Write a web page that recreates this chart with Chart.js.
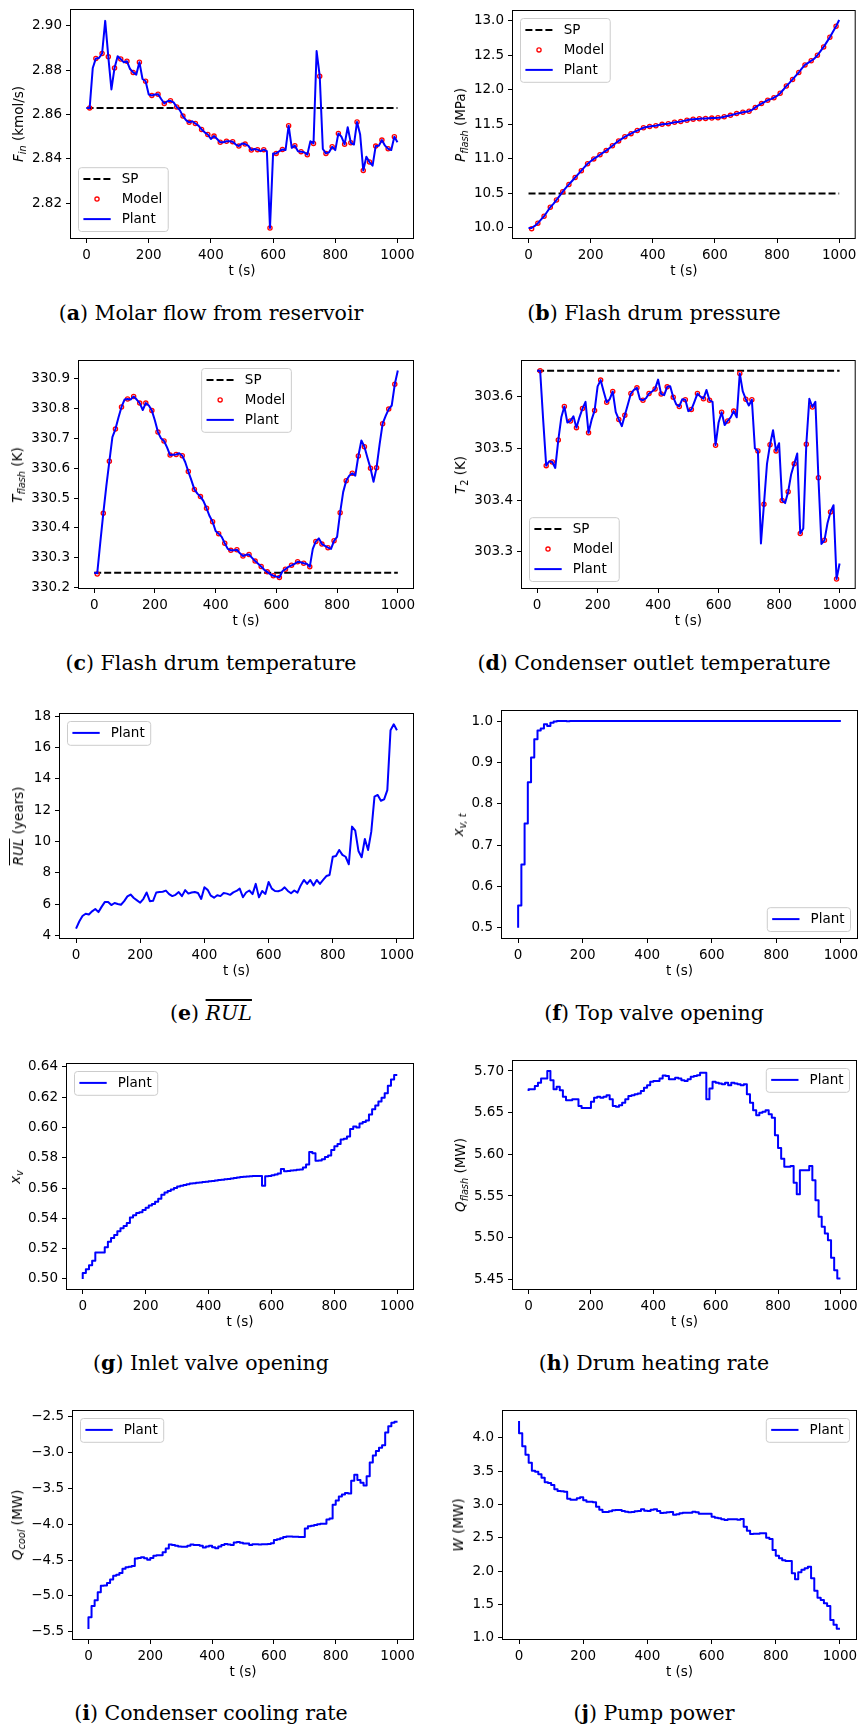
<!DOCTYPE html>
<html>
<head>
<meta charset="utf-8">
<script src="https://cdn.jsdelivr.net/npm/chart.js@4.4.1/dist/chart.umd.min.js"></script>
<style>
  html, body { margin: 0; padding: 0; background: #fff; }
  #page { position: relative; width: 860px; height: 1729px; overflow: hidden; }
  .plot { position: absolute; }
  .ylab {
    position: absolute; white-space: nowrap; color: #000;
    font-family: 'DejaVu Sans'; font-size: 13.5px; line-height: 16px;
    transform: translate(-50%, -50%) rotate(-90deg);
  }
  .ylab sub { font-size: 72%; vertical-align: -0.3em; line-height: 0; }
  .cap {
    position: absolute; width: 430px; text-align: center; color: #000;
    font-family: 'DejaVu Serif'; font-size: 20.5px; line-height: 24px; white-space: nowrap;
  }
</style>
</head>
<body>
<div id="page"></div>
<script>
// sample times (s): plant every 10 s, model every 20 s
const T = [
  0, 10, 20, 30, 40, 50, 60, 70, 80, 90, 100, 110, 120, 130, 140, 150, 160, 170, 180, 190,
  200, 210, 220, 230, 240, 250, 260, 270, 280, 290, 300, 310, 320, 330, 340, 350, 360, 370, 380, 390,
  400, 410, 420, 430, 440, 450, 460, 470, 480, 490, 500, 510, 520, 530, 540, 550, 560, 570, 580, 590,
  600, 610, 620, 630, 640, 650, 660, 670, 680, 690, 700, 710, 720, 730, 740, 750, 760, 770, 780, 790,
  800, 810, 820, 830, 840, 850, 860, 870, 880, 890, 900, 910, 920, 930, 940, 950, 960, 970, 980, 990, 1000
]
const T_MODEL = [
  10, 30, 50, 70, 90, 110, 130, 150, 170, 190, 210, 230, 250, 270, 290, 310, 330, 350, 370, 390,
  410, 430, 450, 470, 490, 510, 530, 550, 570, 590, 610, 630, 650, 670, 690, 710, 730, 750, 770, 790,
  810, 830, 850, 870, 890, 910, 930, 950, 970, 990
]
const X_TICKS = [0, 200, 400, 600, 800, 1000]

// (a) molar flow from reservoir, kmol/s
const SP_A = 2.863
const PLANT_A = [
  2.863, 2.863, 2.881, 2.8853, 2.8855, 2.8875, 2.9022, 2.886, 2.8713, 2.881,
  2.8863, 2.885, 2.8835, 2.884, 2.8805, 2.879, 2.878, 2.8836, 2.876, 2.875,
  2.869, 2.8686, 2.869, 2.8692, 2.867, 2.865, 2.866, 2.8662, 2.8655, 2.8634,
  2.862, 2.8593, 2.8575, 2.8565, 2.857, 2.856, 2.855, 2.8533, 2.852, 2.851,
  2.849, 2.8503, 2.849, 2.8475, 2.8475, 2.848, 2.848, 2.8478, 2.8465, 2.8458,
  2.847, 2.8467, 2.846, 2.844, 2.8445, 2.8442, 2.8435, 2.8442, 2.8435, 2.8089,
  2.8425, 2.8425, 2.8435, 2.8443, 2.844, 2.855, 2.845, 2.846, 2.8435, 2.8433,
  2.843, 2.8419, 2.848, 2.847, 2.8886, 2.8773, 2.8445, 2.8425, 2.843, 2.8455,
  2.844, 2.8515, 2.850, 2.8466, 2.8543, 2.8473, 2.8465, 2.8567, 2.851, 2.8348,
  2.841, 2.8386, 2.837, 2.8458, 2.846, 2.8485, 2.846, 2.8446, 2.844, 2.850, 2.8475
]
const MODEL_A = [
  2.863, 2.8853, 2.8875, 2.886, 2.881, 2.885, 2.884, 2.879, 2.8836, 2.875,
  2.8686, 2.8692, 2.865, 2.8662, 2.8634, 2.8593, 2.8565, 2.856, 2.8533, 2.851,
  2.8503, 2.8475, 2.848, 2.8478, 2.8458, 2.8467, 2.844, 2.8442, 2.8442, 2.8089,
  2.8425, 2.8443, 2.855, 2.846, 2.8433, 2.8419, 2.847, 2.8773, 2.8425, 2.8455,
  2.8515, 2.8466, 2.8473, 2.8567, 2.8348, 2.8386, 2.8458, 2.8485, 2.8446, 2.850
]
const Y_TICKS_A = [2.82, 2.84, 2.86, 2.88, 2.90]

// (b) flash drum pressure, MPa
const SP_B = 10.5
const PLANT_B = [
  10.00, 10.00, 10.03, 10.07, 10.12, 10.17, 10.235, 10.30, 10.35, 10.405,
  10.465, 10.525, 10.58, 10.63, 10.68, 10.73, 10.78, 10.83, 10.88, 10.93,
  10.965, 11.00, 11.03, 11.06, 11.09, 11.12, 11.155, 11.19, 11.225, 11.26,
  11.29, 11.32, 11.345, 11.365, 11.39, 11.41, 11.43, 11.45, 11.46, 11.47,
  11.475, 11.48, 11.49, 11.50, 11.505, 11.51, 11.52, 11.53, 11.535, 11.54,
  11.55, 11.56, 11.57, 11.575, 11.578, 11.58, 11.583, 11.585, 11.588, 11.59,
  11.592, 11.595, 11.60, 11.61, 11.62, 11.63, 11.643, 11.655, 11.665, 11.675,
  11.683, 11.69, 11.71, 11.745, 11.775, 11.80, 11.825, 11.85, 11.865, 11.885,
  11.91, 11.95, 12.00, 12.055, 12.10, 12.15, 12.20, 12.25, 12.31, 12.36,
  12.39, 12.42, 12.45, 12.50, 12.56, 12.62, 12.69, 12.76, 12.84, 12.92, 13.01
]
const MODEL_B = [
  9.99, 10.07, 10.17, 10.30, 10.405, 10.525, 10.63, 10.73, 10.83, 10.93,
  11.00, 11.06, 11.12, 11.19, 11.26, 11.32, 11.365, 11.41, 11.45, 11.47,
  11.48, 11.50, 11.51, 11.53, 11.54, 11.56, 11.575, 11.58, 11.585, 11.59,
  11.595, 11.61, 11.63, 11.655, 11.675, 11.69, 11.745, 11.80, 11.85, 11.885,
  11.95, 12.055, 12.15, 12.25, 12.36, 12.42, 12.50, 12.62, 12.76, 12.92
]
const Y_TICKS_B = [10.0, 10.5, 11.0, 11.5, 12.0, 12.5, 13.0]

// (c) flash drum temperature, K
const SP_C = 330.25
const PLANT_C = [
  330.25, 330.248, 330.35, 330.449, 330.54, 330.623, 330.704, 330.731, 330.77, 330.805,
  330.83, 330.832, 330.83, 330.84, 330.83, 330.818, 330.795, 330.818, 330.81, 330.793,
  330.76, 330.721, 330.70, 330.691, 330.67, 330.644, 330.645, 330.646, 330.65, 330.642,
  330.62, 330.589, 330.56, 330.529, 330.515, 330.505, 330.49, 330.466, 330.44, 330.421,
  330.39, 330.381, 330.37, 330.349, 330.33, 330.325, 330.325, 330.327, 330.315, 330.306,
  330.31, 330.311, 330.30, 330.289, 330.28, 330.271, 330.26, 330.253, 330.245, 330.24,
  330.237, 330.234, 330.255, 330.262, 330.27, 330.275, 330.28, 330.287, 330.285, 330.282,
  330.28, 330.27, 330.33, 330.355, 330.365, 330.346, 330.34, 330.334, 330.33, 330.357,
  330.37, 330.451, 330.52, 330.558, 330.575, 330.583, 330.575, 330.641, 330.693, 330.672,
  330.635, 330.60, 330.555, 330.602, 330.68, 330.749, 330.775, 330.798, 330.81, 330.881, 330.927
]
const MODEL_C = [
  330.246, 330.449, 330.623, 330.731, 330.805, 330.832, 330.84, 330.818, 330.818, 330.793,
  330.721, 330.691, 330.644, 330.646, 330.642, 330.589, 330.529, 330.505, 330.466, 330.421,
  330.381, 330.349, 330.325, 330.327, 330.306, 330.311, 330.289, 330.271, 330.253, 330.24,
  330.234, 330.262, 330.275, 330.287, 330.282, 330.27, 330.355, 330.346, 330.334, 330.357,
  330.451, 330.558, 330.583, 330.641, 330.672, 330.60, 330.602, 330.749, 330.798, 330.881
]
const Y_TICKS_C = [330.2, 330.3, 330.4, 330.5, 330.6, 330.7, 330.8, 330.9]

// (d) condenser outlet temperature, K
const SP_D = 303.65
const PLANT_D = [
  303.65, 303.65, 303.555, 303.4665, 303.475, 303.4735, 303.462, 303.516, 303.56, 303.581,
  303.55, 303.553, 303.562, 303.54, 303.56, 303.577, 303.59, 303.53, 303.555, 303.573,
  303.62, 303.632, 303.61, 303.589, 303.595, 303.61, 303.57, 303.556, 303.543, 303.564,
  303.585, 303.606, 303.613, 303.617, 303.595, 303.593, 303.597, 303.606, 303.61, 303.615,
  303.633, 303.605, 303.603, 303.619, 303.62, 303.599, 303.585, 303.581, 303.595, 303.594,
  303.572, 303.575, 303.59, 303.606, 303.60, 303.596, 303.613, 303.593, 303.59, 303.506,
  303.55, 303.57, 303.545, 303.553, 303.56, 303.572, 303.56, 303.645, 303.61, 303.595,
  303.583, 303.594, 303.50, 303.495, 303.316, 303.392, 303.47, 303.507, 303.535, 303.495,
  303.51, 303.399, 303.394, 303.416, 303.45, 303.47, 303.49, 303.335, 303.345, 303.508,
  303.596, 303.58, 303.59, 303.443, 303.315, 303.322, 303.355, 303.377, 303.39, 303.247, 303.277
]
const MODEL_D = [
  303.65, 303.4665, 303.4735, 303.516, 303.581, 303.553, 303.54, 303.577, 303.53, 303.573,
  303.632, 303.589, 303.61, 303.556, 303.564, 303.606, 303.617, 303.593, 303.606, 303.615,
  303.605, 303.619, 303.599, 303.581, 303.594, 303.575, 303.606, 303.596, 303.593, 303.506,
  303.57, 303.553, 303.572, 303.645, 303.595, 303.594, 303.495, 303.392, 303.507, 303.495,
  303.399, 303.416, 303.47, 303.335, 303.508, 303.58, 303.443, 303.322, 303.377, 303.247
]
const Y_TICKS_D = [303.3, 303.4, 303.5, 303.6]

// (e) mean remaining useful life, years
const PLANT_E = [
  4.45, 4.9, 5.25, 5.4, 5.35, 5.55, 5.7, 5.5, 5.85, 6.15,
  6.15, 5.95, 6.08, 6.02, 5.97, 6.2, 6.5, 6.62, 6.4, 6.25,
  6.1, 6.35, 6.75, 6.2, 6.22, 6.75, 6.78, 6.8, 6.87, 6.65,
  6.52, 6.6, 6.78, 6.52, 6.9, 6.68, 6.75, 6.78, 6.72, 6.34,
  7.08, 6.92, 6.55, 6.42, 6.58, 6.52, 6.72, 6.68, 6.6, 6.76,
  6.85, 7.0, 6.45, 6.75, 6.88, 6.65, 7.3, 6.44, 6.85, 6.66,
  7.42, 7.0, 6.85, 6.83, 6.9, 7.08, 6.85, 6.7, 6.88, 6.74,
  7.2, 7.55, 7.3, 7.55, 7.2, 7.55, 7.3, 7.55, 7.8, 7.87,
  9.03, 9.08, 9.46, 9.15, 9.03, 8.55, 10.95, 10.7, 9.4, 9.0,
  10.16, 9.46, 10.63, 12.86, 12.97, 12.6, 12.69, 13.28, 17.1, 17.47, 17.1
]
const Y_TICKS_E = [4, 6, 8, 10, 12, 14, 16, 18]

// (f) top valve opening
const PLANT_F = [
  0.50, 0.554, 0.653, 0.752, 0.852, 0.912, 0.956, 0.977, 0.982, 0.992,
  0.988, 0.996, 0.999, 1.0, 1.0, 1.0, 0.9995, 1.0, 1.0, 1.0,
  1.0, 1.0, 1.0, 1.0, 1.0, 1.0, 1.0, 1.0, 1.0, 1.0,
  1.0, 1.0, 1.0, 1.0, 1.0, 1.0, 1.0, 1.0, 1.0, 1.0,
  1.0, 1.0, 1.0, 1.0, 1.0, 1.0, 1.0, 1.0, 1.0, 1.0,
  1.0, 1.0, 1.0, 1.0, 1.0, 1.0, 1.0, 1.0, 1.0, 1.0,
  1.0, 1.0, 1.0, 1.0, 1.0, 1.0, 1.0, 1.0, 1.0, 1.0,
  1.0, 1.0, 1.0, 1.0, 1.0, 1.0, 1.0, 1.0, 1.0, 1.0,
  1.0, 1.0, 1.0, 1.0, 1.0, 1.0, 1.0, 1.0, 1.0, 1.0,
  1.0, 1.0, 1.0, 1.0, 1.0, 1.0, 1.0, 1.0, 1.0, 1.0, 1.0
]
const Y_TICKS_F = [0.5, 0.6, 0.7, 0.8, 0.9, 1.0]

// (g) inlet valve opening
const PLANT_G = [
  0.500, 0.504, 0.5065, 0.509, 0.512, 0.5175, 0.5175, 0.5175, 0.521, 0.5245,
  0.527, 0.529, 0.5315, 0.5335, 0.535, 0.537, 0.5405, 0.542, 0.5435, 0.544,
  0.5455, 0.547, 0.5485, 0.5495, 0.551, 0.553, 0.5555, 0.557, 0.558, 0.559,
  0.560, 0.561, 0.5615, 0.562, 0.5625, 0.563, 0.5632, 0.5635, 0.5637, 0.564,
  0.5642, 0.5645, 0.5647, 0.565, 0.5653, 0.5655, 0.5658, 0.566, 0.5663, 0.5666,
  0.5669, 0.5672, 0.5674, 0.5676, 0.5678, 0.5679, 0.568, 0.568, 0.5615, 0.5678,
  0.568, 0.5685, 0.569, 0.5695, 0.5725, 0.571, 0.5712, 0.5715, 0.5718, 0.572,
  0.5722, 0.5735, 0.5755, 0.5838, 0.583, 0.578, 0.5782, 0.579, 0.5805, 0.5815,
  0.585, 0.5875, 0.589, 0.592, 0.5925, 0.594, 0.599, 0.6005, 0.600, 0.6025,
  0.6035, 0.6045, 0.6085, 0.612, 0.6145, 0.617, 0.6195, 0.6225, 0.6275, 0.6315, 0.6345
]
const Y_TICKS_G = [0.50, 0.52, 0.54, 0.56, 0.58, 0.60, 0.62, 0.64]

// (h) drum heating rate, MW
const PLANT_H = [
  5.676, 5.678, 5.678, 5.682, 5.686, 5.691, 5.691, 5.700, 5.689, 5.678,
  5.681, 5.677, 5.669, 5.665, 5.665, 5.666, 5.666, 5.658, 5.6556, 5.6556,
  5.6556, 5.663, 5.668, 5.669, 5.668, 5.669, 5.671, 5.666, 5.658, 5.657,
  5.659, 5.662, 5.666, 5.670, 5.671, 5.672, 5.673, 5.676, 5.680, 5.683,
  5.687, 5.688, 5.688, 5.691, 5.6945, 5.694, 5.690, 5.690, 5.692, 5.691,
  5.689, 5.688, 5.690, 5.693, 5.694, 5.695, 5.698, 5.698, 5.666, 5.679,
  5.687, 5.686, 5.685, 5.684, 5.686, 5.683, 5.686, 5.685, 5.684, 5.683,
  5.684, 5.672, 5.662, 5.653, 5.647, 5.650, 5.651, 5.653, 5.648, 5.644,
  5.623, 5.6076, 5.5948, 5.585, 5.585, 5.586, 5.566, 5.552, 5.581, 5.581,
  5.581, 5.586, 5.569, 5.545, 5.525, 5.513, 5.505, 5.497, 5.476, 5.461, 5.451
]
const Y_TICKS_H = [5.45, 5.50, 5.55, 5.60, 5.65, 5.70]

// (i) condenser cooling rate, MW
const PLANT_I = [
  -5.463, -5.30, -5.14, -5.06, -4.95, -4.86, -4.855, -4.82, -4.77, -4.72,
  -4.705, -4.68, -4.62, -4.60, -4.595, -4.585, -4.48, -4.47, -4.46, -4.475,
  -4.495, -4.47, -4.44, -4.435, -4.435, -4.39, -4.34, -4.285, -4.29, -4.30,
  -4.31, -4.315, -4.315, -4.30, -4.285, -4.29, -4.29, -4.30, -4.325, -4.31,
  -4.30, -4.32, -4.335, -4.31, -4.29, -4.275, -4.285, -4.29, -4.255, -4.25,
  -4.26, -4.27, -4.27, -4.29, -4.28, -4.28, -4.285, -4.28, -4.28, -4.275,
  -4.265, -4.22, -4.21, -4.195, -4.18, -4.17, -4.17, -4.175, -4.175, -4.18,
  -4.18, -4.06, -4.03, -4.02, -4.01, -4.00, -3.995, -3.995, -3.935, -3.92,
  -3.73, -3.67, -3.615, -3.585, -3.565, -3.57, -3.395, -3.31, -3.385, -3.42,
  -3.46, -3.33, -3.14, -3.04, -2.98, -2.935, -2.90, -2.72, -2.635, -2.585, -2.57
]
const Y_TICKS_I = [-5.5, -5.0, -4.5, -4.0, -3.5, -3.0, -2.5]

// (j) pump power, MW
const PLANT_J = [
  4.25, 4.065, 3.87, 3.745, 3.625, 3.505, 3.49, 3.45, 3.40, 3.33,
  3.32, 3.29, 3.225, 3.20, 3.195, 3.19, 3.085, 3.07, 3.07, 3.09,
  3.105, 3.06, 3.04, 3.04, 3.03, 2.965, 2.92, 2.885, 2.885, 2.895,
  2.91, 2.915, 2.915, 2.90, 2.89, 2.88, 2.885, 2.895, 2.90, 2.925,
  2.905, 2.90, 2.92, 2.925, 2.90, 2.87, 2.875, 2.88, 2.885, 2.845,
  2.85, 2.865, 2.875, 2.875, 2.875, 2.89, 2.88, 2.86, 2.86, 2.86,
  2.86, 2.815, 2.80, 2.79, 2.775, 2.765, 2.775, 2.775, 2.775, 2.77,
  2.78, 2.665, 2.605, 2.555, 2.56, 2.56, 2.565, 2.565, 2.50, 2.48,
  2.315, 2.23, 2.19, 2.16, 2.15, 2.15, 1.965, 1.875, 1.98, 2.02,
  2.04, 2.065, 1.89, 1.705, 1.60, 1.565, 1.515, 1.475, 1.265, 1.195, 1.135
]
const Y_TICKS_J = [1.0, 1.5, 2.0, 2.5, 3.0, 3.5, 4.0]

const Y_LABELS = [
  '<i>F</i><sub><i>in</i></sub> (kmol/s)',
  '<i>P</i><sub><i>flash</i></sub> (MPa)',
  '<i>T</i><sub><i>flash</i></sub> (K)',
  '<i>T</i><sub>2</sub> (K)',
  '<span style="text-decoration:overline"><i>RUL</i></span> (years)',
  '<i>x</i><sub><i>v, t</i></sub>',
  '<i>x</i><sub><i>v</i></sub>',
  '<i>Q</i><sub><i>flash</i></sub> (MW)',
  '<i>Q</i><sub><i>cool</i></sub> (MW)',
  '<i>W</i> (MW)'
]
const CAPTIONS = [
  '(<b>a</b>) Molar flow from reservoir',
  '(<b>b</b>) Flash drum pressure',
  '(<b>c</b>) Flash drum temperature',
  '(<b>d</b>) Condenser outlet temperature',
  '(<b>e</b>) <i style="text-decoration:overline">RUL</i>',
  '(<b>f</b>) Top valve opening',
  '(<b>g</b>) Inlet valve opening',
  '(<b>h</b>) Drum heating rate',
  '(<b>i</b>) Condenser cooling rate',
  '(<b>j</b>) Pump power'
]

// layout: axes box [left, top, right, bottom] in page px, y range, y-label x, caption centre y
const PANELS = [
  { box: [71, 10, 413, 238], yr: [2.8044, 2.9071], ticks: Y_TICKS_A, dec: 2, labX: 18, capY: 313, legend: 'lower left', plant: PLANT_A, model: MODEL_A, sp: SP_A },
  { box: [513, 11, 856, 238], yr: [9.855, 13.14], ticks: Y_TICKS_B, dec: 1, labX: 460, capY: 313, legend: 'upper left', plant: PLANT_B, model: MODEL_B, sp: SP_B },
  { box: [79, 361, 413, 588], yr: [330.199, 330.959], ticks: Y_TICKS_C, dec: 1, labX: 17, capY: 663, legend: 'upper center', plant: PLANT_C, model: MODEL_C, sp: SP_C },
  { box: [522, 361, 857, 588], yr: [303.2297, 303.669], ticks: Y_TICKS_D, dec: 1, labX: 460, capY: 663, legend: 'lower left', plant: PLANT_D, model: MODEL_D, sp: SP_D },
  { box: [60, 714, 413, 938], yr: [3.85, 18.13], ticks: Y_TICKS_E, dec: 0, labX: 18, capY: 1013, legend: 'upper left', plant: PLANT_E },
  { box: [502, 711, 857, 938], yr: [0.4751, 1.0242], ticks: Y_TICKS_F, dec: 1, labX: 458, capY: 1013, legend: 'lower right', plant: PLANT_F, stepped: true },
  { box: [67, 1064, 413, 1289], yr: [0.4934, 0.6418], ticks: Y_TICKS_G, dec: 2, labX: 15, capY: 1363, legend: 'upper left', plant: PLANT_G, stepped: true },
  { box: [513, 1061, 856, 1289], yr: [5.4384, 5.712], ticks: Y_TICKS_H, dec: 2, labX: 460, capY: 1363, legend: 'upper right', plant: PLANT_H, stepped: true },
  { box: [73, 1411, 413, 1639], yr: [-5.602, -2.4205], ticks: Y_TICKS_I, dec: 1, labX: 17, capY: 1713, legend: 'upper left', plant: PLANT_I, stepped: true },
  { box: [503, 1411, 856, 1639], yr: [0.9805, 4.40], ticks: Y_TICKS_J, dec: 1, labX: 458, capY: 1713, legend: 'upper right', plant: PLANT_J, stepped: true }
]

const FONT = 'DejaVu Sans'
const TICK_FONT = { family: FONT, size: 13.5 }
const DASH = [7, 3]
const PAD_TOP = 8
const XAXIS_H = 44
const MARKER_R = 2.1

function xy (xs, ys) {
  return ys.map((v, i) => ({ x: xs[i], y: v }))
}

function fmt (v, dec) {
  return v.toFixed(dec).replace('-', '\u2212')
}

// matplotlib style frame around the axes
const framePlugin = {
  id: 'mplFrame',
  afterDatasetsDraw (chart) {
    const { ctx, chartArea: a } = chart
    ctx.save()
    ctx.strokeStyle = '#000'
    ctx.lineWidth = 1
    ctx.strokeRect(a.left - 0.5, a.top - 0.5, a.right - a.left + 1, a.bottom - a.top + 1)
    ctx.restore()
  }
}

// legend box drawn inside the axes like matplotlib's
const legendPlugin = {
  id: 'mplLegend',
  afterDraw (chart, args, opts) {
    const items = opts.items || []
    if (!items.length) return
    const { ctx, chartArea: a } = chart
    ctx.save()
    ctx.font = `13.5px "${FONT}"`
    const textW = Math.max(...items.map(it => ctx.measureText(it.label).width))
    const w = 43.7 + textW + 5.5
    const h = 10.4 + items.length * 13.4 + (items.length - 1) * 6.6
    const m = 7
    let x = (a.left + a.right) / 2 - w / 2
    if (opts.loc.includes('left')) x = a.left + m
    if (opts.loc.includes('right')) x = a.right - m - w
    const y = opts.loc.includes('upper') ? a.top + m : a.bottom - m - h

    ctx.beginPath()
    ctx.roundRect(x + 0.5, y + 0.5, w, h, 3)
    ctx.fillStyle = 'rgba(255,255,255,0.8)'
    ctx.fill()
    ctx.strokeStyle = '#cccccc'
    ctx.lineWidth = 1
    ctx.stroke()

    items.forEach((it, i) => {
      const cy = y + 5.2 + 6.7 + i * 20
      const hx = x + 5.4
      ctx.setLineDash([])
      if (it.kind === 'dash') {
        ctx.setLineDash(DASH)
        ctx.strokeStyle = '#000'
        ctx.lineWidth = 2
        ctx.beginPath(); ctx.moveTo(hx, cy); ctx.lineTo(hx + 27.3, cy); ctx.stroke()
      } else if (it.kind === 'marker') {
        ctx.strokeStyle = '#ff0000'
        ctx.lineWidth = 1.3
        ctx.beginPath(); ctx.arc(hx + 13.6, cy, MARKER_R, 0, Math.PI * 2); ctx.stroke()
      } else {
        ctx.strokeStyle = '#0000ff'
        ctx.lineWidth = 2
        ctx.beginPath(); ctx.moveTo(hx, cy); ctx.lineTo(hx + 27.3, cy); ctx.stroke()
      }
      ctx.setLineDash([])
      ctx.fillStyle = '#000'
      ctx.textAlign = 'left'
      ctx.textBaseline = 'middle'
      ctx.fillText(it.label, x + 43.7, cy + 0.5)
    })
    ctx.restore()
  }
}

function buildPanel (p, idx) {
  const page = document.getElementById('page')
  const col = p.box[0] < 430 ? 0 : 430
  const [l, t, r, b] = p.box
  const w = 430
  const h = PAD_TOP + (b - t) + XAXIS_H

  const wrap = document.createElement('div')
  wrap.className = 'plot'
  wrap.style.left = col + 'px'
  wrap.style.top = (t - PAD_TOP) + 'px'
  wrap.style.width = w + 'px'
  wrap.style.height = h + 'px'
  const canvas = document.createElement('canvas')
  canvas.width = w
  canvas.height = h
  canvas.style.width = w + 'px'
  canvas.style.height = h + 'px'
  wrap.appendChild(canvas)
  page.appendChild(wrap)

  const lab = document.createElement('div')
  lab.className = 'ylab'
  lab.style.left = p.labX + 'px'
  lab.style.top = ((t + b) / 2) + 'px'
  lab.innerHTML = Y_LABELS[idx]
  page.appendChild(lab)

  const cap = document.createElement('div')
  cap.className = 'cap'
  cap.style.left = (col === 0 ? 211 : 654) - 215 + 'px'
  cap.style.top = (p.capY - 12) + 'px'
  cap.innerHTML = CAPTIONS[idx]
  page.appendChild(cap)

  const datasets = [{
    label: 'Plant',
    data: xy(T, p.plant),
    borderColor: '#0000ff',
    borderWidth: 2,
    borderJoinStyle: 'round',
    pointRadius: 0,
    tension: 0,
    stepped: p.stepped ? 'after' : false,
    order: 0
  }]
  const items = []
  if (p.sp !== undefined) {
    datasets.push({
      label: 'Model',
      data: xy(T_MODEL, p.model),
      showLine: false,
      pointRadius: MARKER_R,
      pointBorderWidth: 1.3,
      pointBorderColor: '#ff0000',
      pointBackgroundColor: 'rgba(0,0,0,0)',
      order: 1
    })
    datasets.push({
      label: 'SP',
      data: [{ x: 0, y: p.sp }, { x: 1000, y: p.sp }],
      borderColor: '#000',
      borderWidth: 2,
      borderDash: DASH,
      pointRadius: 0,
      order: 2
    })
    items.push({ label: 'SP', kind: 'dash' }, { label: 'Model', kind: 'marker' })
  }
  items.push({ label: 'Plant', kind: 'line' })

  const tickGrid = { drawOnChartArea: false, drawTicks: true, tickLength: 5, tickColor: '#000', tickWidth: 1 }

  new Chart(canvas, {
    type: 'line',
    data: { datasets },
    options: {
      responsive: false,
      animation: false,
      events: [],
      devicePixelRatio: 1,
      layout: { padding: { left: 0, top: PAD_TOP, right: col + w - r, bottom: 0 } },
      plugins: {
        legend: { display: false },
        tooltip: { enabled: false },
        mplLegend: { loc: p.legend, items }
      },
      scales: {
        x: {
          type: 'linear',
          min: -50,
          max: 1050,
          afterBuildTicks: s => { s.ticks = X_TICKS.map(v => ({ value: v })) },
          afterFit: s => { s.height = XAXIS_H; s.paddingLeft = 0; s.paddingRight = 0 },
          grid: tickGrid,
          border: { display: false },
          ticks: { color: '#000', font: TICK_FONT, padding: 4, maxRotation: 0, autoSkip: false, callback: v => String(v) },
          title: { display: true, text: 't (s)', color: '#000', font: TICK_FONT, padding: { top: 0, bottom: 2 } }
        },
        y: {
          type: 'linear',
          min: p.yr[0],
          max: p.yr[1],
          afterBuildTicks: s => { s.ticks = p.ticks.map(v => ({ value: v })) },
          afterFit: s => { s.width = l - col; s.paddingTop = 0; s.paddingBottom = 0 },
          grid: tickGrid,
          border: { display: false },
          ticks: { color: '#000', font: TICK_FONT, padding: 4, autoSkip: false, callback: v => fmt(v, p.dec) }
        }
      }
    },
    plugins: [framePlugin, legendPlugin]
  })
}

PANELS.forEach(buildPanel)
</script>
</body>
</html>
